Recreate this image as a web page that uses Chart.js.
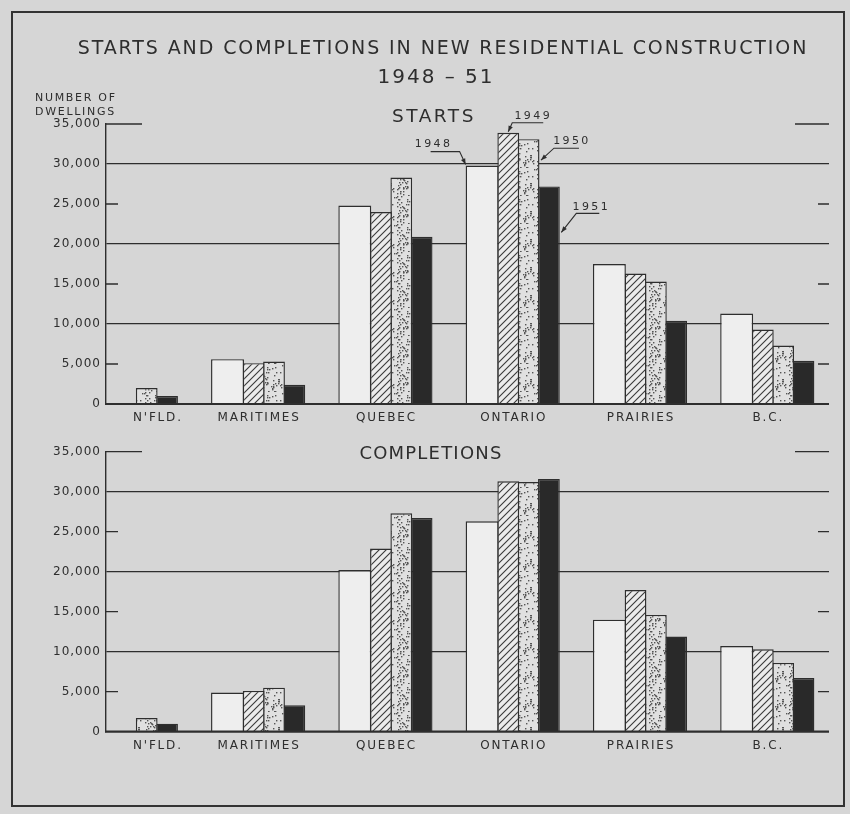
<!DOCTYPE html>
<html>
<head>
<meta charset="utf-8">
<script src="https://cdn.jsdelivr.net/npm/chart.js@4.4.0/dist/chart.umd.min.js"></script>
<style>
  body { margin: 0; background: #d6d6d6; }
  #page { position: relative; width: 850px; height: 814px; overflow: hidden; font-family: "DejaVu Sans", sans-serif; color: #2e2e2e; }
  #frame { position: absolute; left: 11px; top: 11px; width: 834px; height: 796px; border: 2px solid #333; box-sizing: border-box; }
  .t { position: absolute; white-space: nowrap; transform: translate(-50%, -50%); }
  .l { position: absolute; white-space: nowrap; transform: translateY(-50%); font-size: 11px; letter-spacing: 1.7px; }
  canvas { position: absolute; left: 0; }
  #starts { top: 0; }
  #completions { top: 432px; }
</style>
</head>
<body>
<div id="page">
  <div id="frame"></div>
  <canvas id="starts" width="850" height="432"></canvas>
  <canvas id="completions" width="850" height="382"></canvas>
  <div class="t" style="left:443px;top:47px;font-size:19px;letter-spacing:1.9px">STARTS AND COMPLETIONS IN NEW RESIDENTIAL CONSTRUCTION</div>
  <div class="t" style="left:436px;top:76px;font-size:20px;letter-spacing:2px">1948 – 51</div>
  <div class="l" style="left:35px;top:97px">NUMBER OF</div>
  <div class="l" style="left:35px;top:111px">DWELLINGS</div>
  <div class="t" style="left:434px;top:115px;font-size:18.5px;letter-spacing:2.5px">STARTS</div>
  <div class="t" style="left:431px;top:452px;font-size:18px;letter-spacing:1.2px">COMPLETIONS</div>
</div>
<script>
const regions = ["N'FLD.", 'MARITIMES', 'QUEBEC', 'ONTARIO', 'PRAIRIES', 'B.C.'];
const years = ['1948', '1949', '1950', '1951'];

// dwellings (no Nfld. bars for 1948 and 1949)
const starts1948 = [null, 5600, 24800, 29800, 17500, 11300];
const starts1949 = [null, 5100, 24000, 33900, 16300, 9300];
const starts1950 = [2000, 5300, 28300, 33100, 15300, 7300];
const starts1951 = [1000, 2400, 20900, 27200, 10400, 5400];

const compl1948 = [null, 4900, 20200, 26300, 14000, 10700];
const compl1949 = [null, 5100, 22900, 31300, 17700, 10300];
const compl1950 = [1700, 5500, 27300, 31200, 14600, 8600];
const compl1951 = [1000, 3300, 26700, 31600, 11900, 6700];

const dwellingTicks = [0, 5000, 10000, 15000, 20000, 25000, 30000, 35000];

const ink = '#2e2e2e';

function hatchFill() {
  const c = document.createElement('canvas');
  c.width = c.height = 7;
  const g = c.getContext('2d');
  g.fillStyle = '#ebebeb';
  g.fillRect(0, 0, 7, 7);
  g.strokeStyle = '#3a3a3a';
  g.lineWidth = 1.1;
  g.beginPath();
  g.moveTo(-1, 8); g.lineTo(8, -1);
  g.moveTo(-1, 1); g.lineTo(1, -1);
  g.moveTo(6, 8); g.lineTo(8, 6);
  g.stroke();
  return g.createPattern(c, 'repeat');
}

function stippleFill() {
  const n = 28;
  const c = document.createElement('canvas');
  c.width = c.height = n;
  const g = c.getContext('2d');
  g.fillStyle = '#e0e0e0';
  g.fillRect(0, 0, n, n);
  g.fillStyle = '#555';
  let s = 11;
  for (let i = 0; i < 70; i++) { // fixed speckle texture
    s = (s * 16807) % 2147483647;
    const x = s % n;
    s = (s * 16807) % 2147483647;
    const y = s % n;
    g.fillRect(x, y, 1.4, 1.4);
  }
  return g.createPattern(c, 'repeat');
}

const fills = ['#eeeeee', hatchFill(), stippleFill(), '#292929'];

// where the year callouts sit, relative to each Ontario bar of the starts chart
const callouts = [
  b => { const tip = [b.l, b.t - 1], el = [tip[0] - 6, tip[1] - 13]; return {tip, el, end: [el[0] - 29, el[1]], tx: el[0] - 26, ty: el[1] - 7}; },
  b => { const tip = [b.x, b.t - 1], el = [tip[0] + 4, tip[1] - 9]; return {tip, el, end: [el[0] + 31, el[1]], tx: el[0] + 21, ty: el[1] - 6.5}; },
  b => { const tip = [b.r + 1.5, b.t + 21], el = [tip[0] + 13, tip[1] - 12]; return {tip, el, end: [el[0] + 25, el[1]], tx: el[0] + 18, ty: el[1] - 7}; },
  b => { const tip = [b.r + 1.5, b.t + 46], el = [tip[0] + 15, tip[1] - 19]; return {tip, el, end: [el[0] + 23, el[1]], tx: el[0] + 15, ty: el[1] - 6.5}; }
];

const decor = {
  id: 'decor',
  beforeDraw(chart) {
    chart.ctx.letterSpacing = '1px';
  },
  beforeDatasetsDraw(chart) {
    const {ctx, chartArea: a, scales: {y}} = chart;
    ctx.save();
    ctx.strokeStyle = ink;
    ctx.lineWidth = 1.3;
    dwellingTicks.forEach(v => {
      if (v === 0 || v === 10000 || v === 20000 || v === 30000) return;
      const len = v === 35000 ? [36, 34] : [12, 11];
      const py = y.getPixelForValue(v);
      ctx.beginPath();
      ctx.moveTo(a.left, py); ctx.lineTo(a.left + len[0], py);
      ctx.moveTo(a.right - len[1], py); ctx.lineTo(a.right, py);
      ctx.stroke();
    });
    ctx.restore();
  },
  afterDatasetsDraw(chart, args, opts) {
    const {ctx, chartArea: a, scales: {y}} = chart;
    const base = y.getPixelForValue(0);
    ctx.save();
    ctx.strokeStyle = ink;
    ctx.lineWidth = 2.2;
    ctx.beginPath();
    ctx.moveTo(a.left - 1, base); ctx.lineTo(a.right, base);
    ctx.stroke();

    const metas = chart.getSortedVisibleDatasetMetas().sort((p, q) => p.index - q.index);
    const rect = (m, i) => {
      const b = m.data[i].getProps(['x', 'y', 'width'], true);
      return {x: b.x, l: b.x - b.width / 2, r: b.x + b.width / 2, t: b.y};
    };

    // region names centred under the bars that are drawn
    ctx.fillStyle = ink;
    ctx.font = '12px "DejaVu Sans"';
    ctx.letterSpacing = '1.8px';
    ctx.textAlign = 'center';
    ctx.textBaseline = 'middle';
    regions.forEach((name, i) => {
      let l = Infinity, r = -Infinity;
      metas.forEach(m => {
        if (m.data[i] && chart.data.datasets[m.index].data[i].y != null) {
          const b = rect(m, i);
          l = Math.min(l, b.l); r = Math.max(r, b.r);
        }
      });
      ctx.fillText(name, (l + r) / 2 + 1, base + 14);
    });

    if (opts.callouts) {
      const idx = regions.indexOf('ONTARIO');
      ctx.font = '11px "DejaVu Sans"';
      ctx.letterSpacing = '2.4px';
      ctx.lineWidth = 1.1;
      metas.forEach((m, k) => {
        const c = callouts[k](rect(m, idx));
        ctx.beginPath();
        ctx.moveTo(c.end[0], c.end[1]); ctx.lineTo(c.el[0], c.el[1]); ctx.lineTo(c.tip[0], c.tip[1]);
        ctx.stroke();
        const ang = Math.atan2(c.tip[1] - c.el[1], c.tip[0] - c.el[0]);
        ctx.beginPath();
        ctx.moveTo(c.tip[0], c.tip[1]);
        ctx.lineTo(c.tip[0] - 6 * Math.cos(ang) + 2.3 * Math.sin(ang), c.tip[1] - 6 * Math.sin(ang) - 2.3 * Math.cos(ang));
        ctx.lineTo(c.tip[0] - 6 * Math.cos(ang) - 2.3 * Math.sin(ang), c.tip[1] - 6 * Math.sin(ang) + 2.3 * Math.cos(ang));
        ctx.closePath();
        ctx.fill();
        ctx.fillText(years[k], c.tx, c.ty);
      });
    }
    ctx.restore();
  }
};

function makeChart(id, series, pad, withCallouts) {
  return new Chart(document.getElementById(id), {
    type: 'bar',
    data: {
      datasets: years.map((yr, k) => ({
        label: yr,
        data: series[k].map((v, i) => ({x: i, y: v})),
        backgroundColor: fills[k],
        borderColor: ink,
        borderWidth: 1.4,
        inflateAmount: 0,
        categoryPercentage: k === 0 ? 0.761 : 0.639,
        barPercentage: k === 0 ? 1.36 : 1.07
      }))
    },
    options: {
      responsive: false,
      animation: false,
      devicePixelRatio: 1,
      layout: {padding: {left: 0, right: 21, top: pad[0], bottom: pad[1]}},
      plugins: {
        legend: {display: false},
        tooltip: {enabled: false},
        decor: {callouts: withCallouts}
      },
      scales: {
        x: {
          type: 'linear',
          min: -0.24,
          max: 5.44,
          offset: false,
          display: false,
          afterBuildTicks: s => { s.ticks = regions.map((r, i) => ({value: i})); }
        },
        y: {
          min: 0,
          max: 35000,
          afterBuildTicks: s => { s.ticks = dwellingTicks.map(v => ({value: v})); },
          afterFit: s => { s.width = 106; },
          ticks: {
            padding: 5,
            color: ink,
            font: {family: 'DejaVu Sans', size: 12},
            callback: v => v.toLocaleString('en-US')
          },
          grid: {
            drawTicks: false,
            lineWidth: 1.3,
            color: c => (c.tick && (c.tick.value === 10000 || c.tick.value === 20000 || c.tick.value === 30000)) ? ink : 'rgba(0,0,0,0)'
          },
          border: {display: true, color: ink, width: 1.4}
        }
      }
    },
    plugins: [decor]
  });
}

makeChart('starts', [starts1948, starts1949, starts1950, starts1951], [124, 28], true);
makeChart('completions', [compl1948, compl1949, compl1950, compl1951], [19.7, 82.3], false);
</script>
</body>
</html>
